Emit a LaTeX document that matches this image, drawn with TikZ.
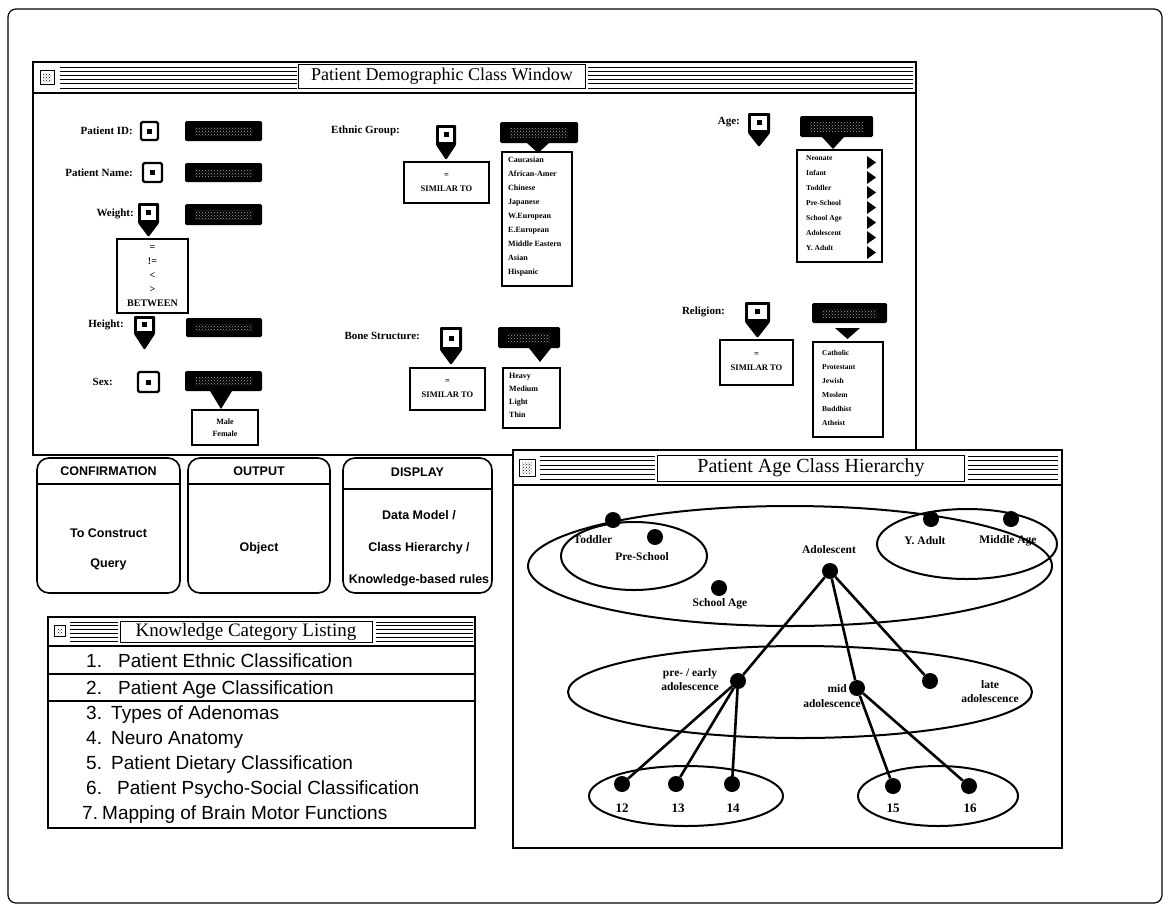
\documentclass[tikz,border=0pt]{standalone}
\usepackage{fontspec}
\setmainfont{Liberation Serif}
\newfontfamily\hv{Liberation Sans}
\usetikzlibrary{patterns}
\newcommand{\smallbox}[4]{%
  \draw[line width=2.2pt, rounded corners=1.5pt, fill=white] (#1,#2) rectangle (#3,#4);
  \fill ({(#1+#3)/2-2.5},{(#2+#4)/2-2.5}) rectangle ++(5,5);}
\newcommand{\ptrbox}[5]{%
  \fill[rounded corners=1pt] (#1,#2) -- (#3,#2) -- (#3,#4) -- ({(#1+#3)/2},#5) -- (#1,#4) -- cycle;
  \fill[white] ({#1+3},{#2+3}) rectangle ({#3-3},{#4-3});
  \fill ({(#1+#3)/2-2.5},{(#2+#4)/2-3}) rectangle ++(5,5);}
\newcommand{\dfield}[4]{%
  \fill[rounded corners=1.5pt] (#1,#2) rectangle (#3,#4);
  \fill[pattern=crosshatch dots, pattern color=white!65!black] ({#1+10},{#2+6}) rectangle ({#3-10},{#4-6});}
\newcommand{\stripes}[4]{%
  \foreach \k in {0,...,5} \draw[line width=0.9pt] (#1,{#3+\k*(#4-#3)/5}) -- (#2,{#3+\k*(#4-#3)/5});}
\newcommand{\closebox}[4]{%
  \draw[line width=0.8pt, fill=white] (#1,#2) rectangle (#3,#4);
  \fill[pattern=crosshatch dots] ({#1+3},{#2+3}) rectangle ({#3-3},{#4-3});}
\begin{document}
\begin{tikzpicture}[x=1pt,y=-1pt,
  lbl/.style={font=\fontsize{11}{12}\selectfont\bfseries, anchor=east, inner sep=0},
  item/.style={font=\fontsize{8}{14}\selectfont\bfseries, align=left, anchor=north west, inner sep=0},
  ctr/.style={font=\fontsize{8.5}{14}\selectfont\bfseries, align=center, inner sep=0},
  win/.style={line width=1.6pt, fill=white},
  lst/.style={draw, line width=2pt, fill=white},
  ttl/.style={draw, line width=1pt, fill=white, inner sep=0},
  hl/.style={font=\fontsize{11.5}{14}\selectfont\bfseries, inner sep=0, align=center},
  num/.style={font=\fontsize{13}{14}\selectfont\bfseries, inner sep=0},
  dotn/.style={circle, fill=black, minimum size=16pt, inner sep=0},
  link/.style={line width=2.6pt},
  ell/.style={line width=2pt},
  kitem/.style={font=\hv\fontsize{19}{22}\selectfont, anchor=base west, inner sep=0},
  btxt/.style={font=\hv\bfseries\fontsize{12.5}{30}\selectfont, inner sep=0, align=center},
  bbox/.style={draw, line width=1.6pt, rounded corners=12pt}]
\useasboundingbox (0,0) rectangle (1169,913);
\fill[white] (0,0) rectangle (1169,913);
\draw[line width=1.2pt, rounded corners=8pt] (8,9) rectangle (1162,903);

% ---------------- Patient Demographic Class Window
\draw[win] (33,62) rectangle (916,455);
\draw[line width=1.6pt] (33,93) -- (916,93);
\stripes{60}{297}{67}{88}
\stripes{588}{913}{67}{88}
\closebox{40}{70}{54}{84}
\node[ttl, minimum width=287pt, minimum height=24pt, font=\fontsize{18}{20}\selectfont] (tdemo) at (442,76) {Patient Demographic Class Window};

% left column
\node[lbl] (lid) at (133,131) {Patient ID:};
\smallbox{141}{122}{158}{140}
\dfield{185}{121}{262}{141}

\node[lbl] (lname) at (133,173) {Patient Name:};
\smallbox{143}{163}{162}{182}
\dfield{185}{163}{262}{182}

\node[lbl] (lweight) at (134,214) {Weight:};
\ptrbox{138}{203}{159}{223}{237}
\dfield{185}{204}{262}{225}
\draw[lst] (117,239) rectangle (188,313);
\node[ctr, font=\fontsize{10}{14}\selectfont\bfseries] (wlist) at (152.5,276) {=\\!=\\<\\>\\BETWEEN};

\node[lbl] (lheight) at (124,325) {Height:};
\ptrbox{134}{316}{155}{334}{350}
\dfield{186}{318}{262}{337}

\node[lbl] (lsex) at (113,382) {Sex:};
\smallbox{138}{372}{159}{392}
\dfield{185}{371}{262}{391}
\fill (210,391) -- (232,391) -- (221,409) -- cycle;
\draw[lst] (192,410) rectangle (258,445);
\node[ctr, font=\fontsize{8}{12}\selectfont\bfseries] (sexlist) at (225,428) {Male\\Female};

% middle column
\node[lbl] (leth) at (400,131) {Ethnic Group:};
\ptrbox{436}{125}{456}{145}{160}
\draw[lst] (404,162) rectangle (489,203);
\node[ctr] (esim) at (446.5,183) {=\\SIMILAR TO};
\dfield{500}{122}{578}{143}
\fill (527,143) -- (549,143) -- (538,153) -- cycle;
\draw[lst] (502,152) rectangle (572,286);
\node[item] (elist) at (508,157) {Caucasian\\African-Amer\\Chinese\\Japanese\\W.European\\E.European\\Middle Eastern\\Asian\\Hispanic};

\node[lbl] (lbone) at (420,336) {Bone Structure:};
\ptrbox{440}{327}{462}{350}{365}
\draw[lst] (410,368) rectangle (485,410);
\node[ctr] (bsim) at (447.5,389) {=\\SIMILAR TO};
\dfield{498}{327}{560}{348}
\fill (529,348) -- (551,348) -- (540,362) -- cycle;
\draw[lst] (503,368) rectangle (560,428);
\node[item, font=\fontsize{8}{13}\selectfont\bfseries] (blist) at (509,373) {Heavy\\Medium\\Light\\Thin};

% right column
\node[lbl] (lage) at (740,122) {Age:};
\ptrbox{748}{113}{770}{133}{147}
\dfield{800}{116}{873}{137}
\fill (822,137) -- (844,137) -- (833,149) -- cycle;
\draw[lst] (797,150) rectangle (882,262);
\foreach \k in {0,...,6} \fill (867,{156+\k*15}) -- (876,{162.5+\k*15}) -- (867,{169+\k*15}) -- cycle;
\node[item, font=\fontsize{7.5}{15}\selectfont\bfseries] (alist) at (806,155) {Neonate\\Infant\\Toddler\\Pre-School\\School Age\\Adolescent\\Y. Adult};

\node[lbl] (lrel) at (725,312) {Religion:};
\ptrbox{745}{302}{770}{322}{338}
\draw[lst] (720,340) rectangle (793,385);
\node[ctr] (rsim) at (756.5,362) {=\\SIMILAR TO};
\dfield{812}{303}{887}{323}
\fill (835,328) -- (860,328) -- (847.5,339) -- cycle;
\draw[lst] (813,342) rectangle (883,437);
\node[item, font=\fontsize{7.5}{14}\selectfont\bfseries] (rlist) at (822,350) {Catholic\\Protestant\\Jewish\\Moslem\\Buddhist\\Atheist};

% ---------------- three boxes
\draw[bbox] (37,458) rectangle (180,593);
\draw[line width=1.6pt] (37,484) -- (180,484);
\node[btxt] (cfh) at (108.5,471) {CONFIRMATION};
\node[btxt] (cfb) at (108.5,549) {To Construct\\Query};

\draw[bbox] (188,458) rectangle (330,593);
\draw[line width=1.6pt] (188,484) -- (330,484);
\node[btxt] (outh) at (259,471) {OUTPUT};
\node[btxt] (outb) at (259,548) {Object};

\draw[bbox] (343,458) rectangle (492,593);
\draw[line width=1.6pt] (343,489) -- (492,489);
\node[btxt] (dish) at (417.5,472) {DISPLAY};
\begin{scope}
\clip (344,490) rectangle (490,592);
\node[btxt, font=\hv\bfseries\fontsize{12.5}{32}\selectfont] (disb) at (419,548) {Data Model /\\Class Hierarchy /\\Knowledge-based rules};
\end{scope}

% ---------------- Knowledge Category Listing
\draw[win] (48,617) rectangle (475,828);
\draw[line width=1.6pt] (48,646) -- (475,646);
\stripes{70}{118}{622}{641}
\stripes{376}{473}{622}{641}
\closebox{54}{625}{65}{636}
\node[ttl, minimum width=252pt, minimum height=21pt, font=\fontsize{19}{20}\selectfont] (tknow) at (246,632) {Knowledge Category Listing};
\draw[line width=1.3pt] (48,674) rectangle (475,701);
\node[kitem] (k1n) at (86,667) {1.};  \node[kitem] (k1) at (118,667) {Patient Ethnic Classification};
\node[kitem] (k2n) at (86,694) {2.};  \node[kitem] (k2) at (118,694) {Patient Age Classification};
\node[kitem] (k3n) at (86,719) {3.};  \node[kitem] (k3) at (111,719) {Types of Adenomas};
\node[kitem] (k4n) at (86,744) {4.};  \node[kitem] (k4) at (111,744) {Neuro Anatomy};
\node[kitem] (k5n) at (86,769) {5.};  \node[kitem] (k5) at (111,769) {Patient Dietary Classification};
\node[kitem] (k6n) at (86,794) {6.};  \node[kitem] (k6) at (117,794) {Patient Psycho-Social Classification};
\node[kitem] (k7n) at (82,819) {7.};  \node[kitem] (k7) at (102,819) {Mapping of Brain Motor Functions};

% ---------------- Patient Age Class Hierarchy
\draw[win] (513,450) rectangle (1062,848);
\draw[line width=1.6pt] (513,485) -- (1062,485);
\closebox{519}{459}{535}{476}
\stripes{540}{655}{456}{479}
\stripes{968}{1058}{456}{479}
\node[ttl, minimum width=307pt, minimum height=26pt, font=\fontsize{20}{22}\selectfont] (thier) at (811,468) {Patient Age Class Hierarchy};

\draw[ell] (790,566) ellipse [x radius=262, y radius=60];
\draw[ell] (634,556) ellipse [x radius=73, y radius=34];
\draw[ell] (967,544) ellipse [x radius=90, y radius=35];
\draw[ell] (800,692) ellipse [x radius=232, y radius=46];
\draw[ell] (686,796) ellipse [x radius=97, y radius=30];
\draw[ell] (938,796) ellipse [x radius=80, y radius=30];

\node[dotn] (toddler) at (613,520) {};
\node[dotn] (preschool) at (655,537) {};
\node[dotn] (schoolage) at (719,588) {};
\node[dotn] (adol) at (830,571) {};
\node[dotn] (yadult) at (931,519) {};
\node[dotn] (midage) at (1011,519) {};
\node[dotn] (early) at (738,681) {};
\node[dotn] (mid) at (857,688) {};
\node[dotn] (late) at (930,681) {};
\node[dotn] (n12) at (622,784) {};
\node[dotn] (n13) at (676,784) {};
\node[dotn] (n14) at (732,784) {};
\node[dotn] (n15) at (893,786) {};
\node[dotn] (n16) at (969,786) {};

\node[hl] (ttoddler) at (593,540) {Toddler};
\node[hl] (tpre) at (642,557) {Pre-School};
\node[hl] (tschool) at (720,604) {School Age};
\node[hl] (tadol) at (829,550) {Adolescent};
\node[hl] (tyadult) at (925,541) {Y. Adult};
\node[hl] (tmidage) at (1008,541) {Middle Age};
\node[hl] (tearly) at (690,680) {pre- / early\\adolescence};
\node[hl, anchor=east] (tmid) at (847,689) {mid};
\node[hl] (tmid2) at (832,704) {adolescence};
\node[hl] (tlate) at (990,692) {late\\adolescence};
\node[num] (t12) at (622,808) {12};
\node[num] (t13) at (678,808) {13};
\node[num] (t14) at (733,808) {14};
\node[num] (t15) at (893,808) {15};
\node[num] (t16) at (970,808) {16};

\draw[link] (adol) -- (early);
\draw[link] (adol) -- (mid);
\draw[link] (adol) -- (late);
\draw[link] (early) -- (n12);
\draw[link] (early) -- (n13);
\draw[link] (early) -- (n14);
\draw[link] (mid) -- (n15);
\draw[link] (mid) -- (n16);
\end{tikzpicture}
\end{document}
